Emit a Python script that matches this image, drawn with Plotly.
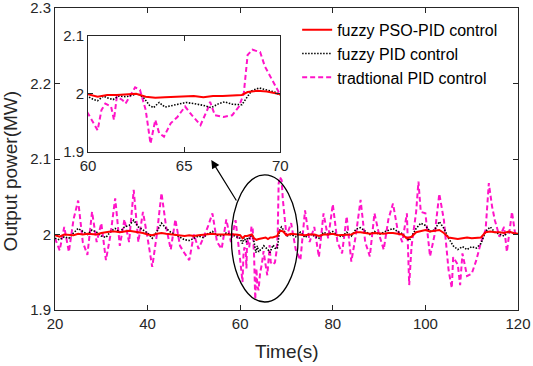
import plotly.graph_objects as go

# ---------------- data ----------------
t_pink = [20, 21, 22, 23, 24, 25, 26, 27, 28, 29, 30, 31, 32, 33, 34, 35, 36, 37, 38, 39,
          40, 41, 42, 43, 44, 45, 46, 47, 48, 49, 50, 51, 52, 53, 54, 55, 56, 57, 58, 59,
          60.0, 60.5, 60.7, 60.9, 61.2, 61.35, 61.5, 61.8, 61.95, 62.45, 62.7, 63.0, 63.25,
          63.5, 63.7, 63.95, 64.3, 64.65, 65.05, 65.4, 65.85, 66.2, 66.35, 66.6, 67.05, 67.5,
          67.85, 68.1, 68.3, 68.55, 68.95, 69.2, 69.5, 69.75, 70.0,
          71, 72, 73, 74, 75, 76, 77, 78, 79, 80, 81, 82, 83, 84, 85, 86, 87, 88, 89, 90,
          91, 92, 93, 94, 95, 96, 96.5, 97, 98, 98.5, 99, 100, 101, 102, 103, 104, 105, 105.7,
          106, 107, 107.5, 108, 109, 110, 111, 112, 113, 113.7, 114.4, 115, 116, 117, 117.6,
          118.7, 119.4, 120]
pink_vals = [1.995, 1.979, 2.010, 1.977, 2.020, 2.045, 1.990, 1.973, 2.030, 1.990,
             2.015, 1.966, 2.000, 2.048, 1.985, 2.020, 1.990, 2.059, 1.990, 2.030,
             1.995, 1.957, 2.000, 2.055, 2.010, 1.980, 2.020, 1.985, 1.975, 1.966,
             2.000, 1.981, 1.995, 2.010, 2.028, 1.990, 1.981, 2.020, 1.990, 2.019,
             1.966, 1.937, 1.972, 1.983, 1.978, 1.955, 1.995, 1.989, 1.983, 2.011, 2.007,
             1.972, 1.914, 1.955, 1.932, 1.926, 1.949, 1.960, 1.978, 1.963, 1.946, 1.972,
             1.986, 1.963, 1.960, 1.963, 1.978, 2.000, 2.067, 2.076, 2.072, 2.047, 2.029,
             2.012, 1.998,
             2.015, 1.980, 1.966, 2.032, 1.990, 2.010, 1.970, 2.028, 1.995, 2.040,
             1.990, 1.975, 2.024, 1.964, 2.000, 2.046, 1.990, 1.971, 2.028, 2.000,
             1.980, 2.020, 2.041, 2.006, 1.990, 2.028, 1.933, 1.984, 2.030, 2.070,
             2.030, 2.028, 1.971, 2.000, 2.054, 2.019, 1.953, 1.929, 1.970, 1.960,
             1.933, 1.975, 1.945, 1.948, 1.966, 1.990, 2.006, 2.068, 2.037, 2.019,
             1.997, 2.010, 1.977, 2.030, 2.000, 2.000]

t_black = [20, 21, 22, 23, 24, 25, 26, 27, 28, 29, 30, 31, 32, 33, 34, 35, 36, 37, 38, 39,
           40, 41, 42, 43, 44, 45, 46, 47, 48, 49, 50, 51, 52, 53, 54, 55, 56, 57, 58, 59,
           60.0, 60.3, 60.5, 60.8, 61.0, 61.3, 61.6, 62.0, 62.3, 62.6, 62.9, 63.2, 63.4, 63.7,
           64.0, 64.4, 64.8, 65.1, 65.5, 66.0, 66.4, 66.8, 67.1, 67.5, 68.0, 68.2, 68.5, 68.9,
           69.3, 69.7, 70.0,
           71, 72, 73, 74, 75, 76, 77, 78, 79, 80, 81, 82, 83, 84, 85, 86, 87, 88, 89, 90,
           91, 92, 93, 94, 95, 96, 96.5, 97, 98, 99, 100, 101, 102, 103, 104, 105, 106, 107,
           108, 109, 110, 111, 112, 113, 114, 115, 116, 117, 118, 119, 120]
black_vals = [1.995, 1.993, 1.997, 1.995, 2.002, 2.008, 2.004, 2.000, 2.006, 2.003,
              1.998, 1.996, 2.004, 2.008, 2.003, 2.010, 2.012, 2.019, 2.010, 2.006,
              2.002, 1.995, 2.004, 2.015, 2.008, 2.003, 2.000, 1.996, 1.993, 1.992,
              1.995, 1.998, 1.996, 2.001, 2.004, 1.999, 1.998, 2.002, 2.000, 1.997,
              1.995, 1.990, 1.988, 1.996, 1.993, 1.990, 1.996, 1.995, 1.998, 2.000,
              1.993, 1.980, 1.976, 1.985, 1.977, 1.980, 1.982, 1.985, 1.983, 1.980,
              1.976, 1.983, 1.986, 1.982, 1.981, 1.990, 2.005, 2.010, 2.006, 2.003, 1.998,
              2.000, 1.997, 2.003, 1.996, 2.001, 1.998, 1.995, 2.003, 2.000, 2.004,
              1.999, 1.997, 2.003, 1.998, 2.007, 2.009, 2.005, 2.000, 2.004, 2.000,
              2.003, 2.006, 2.008, 2.004, 2.001, 1.995, 1.992, 1.997, 2.008, 2.015,
              2.012, 2.004, 2.006, 2.017, 2.008, 1.995, 1.985, 1.980, 1.984, 1.980,
              1.984, 1.982, 1.988, 2.004, 2.010, 2.003, 2.001, 1.998, 2.004, 2.002, 2.000]

t_red = [20, 21, 22, 23, 24, 25, 26, 27, 28, 29, 30, 31, 32, 33, 34, 35, 36, 37, 38, 39,
         40, 41, 42, 43, 44, 45, 46, 47, 48, 49, 50, 51, 52, 53, 54, 55, 56, 57, 58, 59,
         60.0, 60.5, 61.0, 61.5, 62.0, 62.5, 63.0, 63.5, 64.0, 64.5, 65.0, 65.5, 66.0, 66.5,
         67.0, 67.5, 68.0, 68.3, 68.8, 69.3, 70.0,
         71, 72, 73, 74, 75, 76, 77, 78, 79, 80, 81, 82, 83, 84, 85, 86, 87, 88, 89, 90,
         91, 92, 93, 94, 95, 96, 97, 98, 99, 100, 101, 102, 103, 104, 105, 106, 107, 108,
         109, 110, 111, 112, 113, 114, 115, 116, 117, 118, 119, 120]
red_vals = [1.999, 1.997, 2.000, 2.000, 1.999, 2.001, 2.000, 2.001, 2.000, 2.000,
            2.002, 2.003, 2.004, 2.004, 2.003, 2.004, 2.005, 2.004, 2.003, 2.002,
            2.000, 1.999, 2.001, 2.002, 2.001, 2.000, 1.999, 1.998, 1.998, 1.999,
            1.998, 1.999, 2.000, 2.000, 2.001, 2.000, 2.000, 2.001, 2.000, 2.000,
            1.999, 1.995, 1.998, 1.998, 1.999, 2.000, 1.995, 1.993, 1.994, 1.995,
            1.996, 1.996, 1.994, 1.996, 1.996, 1.997, 1.998, 2.003, 2.005, 2.004, 1.999,
            2.001, 2.000, 2.000, 1.999, 2.000, 2.000, 1.998, 2.000, 2.000, 2.001,
            1.999, 1.999, 2.000, 2.000, 2.003, 2.003, 2.002, 2.001, 2.002, 2.001,
            2.001, 2.002, 2.002, 2.001, 2.000, 1.995, 1.997, 2.003, 2.005, 2.006,
            2.004, 2.005, 2.006, 2.002, 1.996, 1.995, 1.994, 1.995, 1.996, 1.995,
            1.996, 1.996, 2.003, 2.004, 2.003, 2.003, 2.002, 2.004, 2.002, 2.001]

series_names = ["fuzzy PSO-PID control", "fuzzy PID control", "tradtional PID control"]
x_ticks = [20, 40, 60, 80, 100, 120]
y_ticks = [1.9, 2.0, 2.1, 2.2, 2.3]
y_tick_text = ["1.9", "2", "2.1", "2.2", "2.3"]
inset_x_ticks = [60, 65, 70]
inset_y_ticks = [1.9, 2.0, 2.1]
inset_y_text = ["1.9", "2", "2.1"]

# ---------------- styles ----------------
FONT = "Liberation Sans, Arial, sans-serif"
AX = "#262626"
RED = "#ff0000"
BLACK = "#000000"
PINK = "#ff14c8"

fig = go.Figure()

for xa, ya, show in [("x", "y", True), ("x2", "y2", False)]:
    fig.add_trace(go.Scatter(x=t_pink, y=pink_vals, mode="lines", name=series_names[2],
                             line=dict(color=PINK, width=2, dash="5px,3px"),
                             xaxis=xa, yaxis=ya, showlegend=show, legendrank=3))
    fig.add_trace(go.Scatter(x=t_black, y=black_vals, mode="lines", name=series_names[1],
                             line=dict(color=BLACK, width=1.6, dash="1.5px,1.5px"),
                             xaxis=xa, yaxis=ya, showlegend=show, legendrank=2))
    fig.add_trace(go.Scatter(x=t_red, y=red_vals, mode="lines", name=series_names[0],
                             line=dict(color=RED, width=2),
                             xaxis=xa, yaxis=ya, showlegend=show, legendrank=1))

axis_common = dict(showline=True, linecolor=AX, linewidth=1, mirror="ticks",
                   ticks="inside", ticklen=5, tickcolor=AX, showgrid=False,
                   zeroline=False, automargin=False, ticklabeloverflow="allow",
                   tickfont=dict(family=FONT, size=15, color=AX))

fig.update_layout(
    width=533, height=366,
    margin=dict(l=55, r=15, t=8, b=56, autoexpand=False),
    paper_bgcolor="white", plot_bgcolor="white",
    font=dict(family=FONT, color=AX),
    xaxis=dict(range=[20, 120], tickvals=x_ticks, domain=[0, 1], **axis_common),
    yaxis=dict(range=[1.9, 2.3], tickvals=y_ticks, ticktext=y_tick_text, **axis_common),
    xaxis2=dict(range=[60, 70], tickvals=inset_x_ticks, domain=[0.0713, 0.4866],
                anchor="y2", **axis_common),
    yaxis2=dict(range=[1.9, 2.1], tickvals=inset_y_ticks, ticktext=inset_y_text,
                domain=[0.524, 0.908], anchor="x2", **axis_common),
    legend=dict(x=0.523, y=0.984, xanchor="left", yanchor="top",
                bgcolor="rgba(0,0,0,0)", borderwidth=0,
                font=dict(family=FONT, size=16, color="#000000"),
                tracegroupgap=0),
    showlegend=True,
)

# ellipse marking zoomed region
fig.add_shape(type="circle", xref="x", yref="y", x0=58.1, x1=72.5, y0=1.9106, y1=2.079,
              line=dict(color=BLACK, width=1.3))

# arrow to inset
fig.add_annotation(x=53.76, y=2.0987, ax=59.37, ay=2.043, xref="x", yref="y",
                   axref="x", ayref="y", text="", showarrow=True, arrowhead=2,
                   arrowsize=1.4, arrowwidth=1.2, arrowcolor=BLACK)

# axis titles
fig.add_annotation(text="Time(s)", x=0.5, y=-0.139, xref="paper", yref="paper",
                   showarrow=False, xanchor="center", yanchor="middle",
                   font=dict(family=FONT, size=19, color=AX))
fig.add_annotation(text="Output power(MW)", x=-0.0965, y=0.46, xref="paper", yref="paper",
                   showarrow=False, xanchor="center", yanchor="middle", textangle=-90,
                   font=dict(family=FONT, size=19, color=AX))

fig.write_html("out.html", config={"displayModeBar": False},
               post_script="document.body.style.margin='0';document.body.style.overflow='hidden';")
